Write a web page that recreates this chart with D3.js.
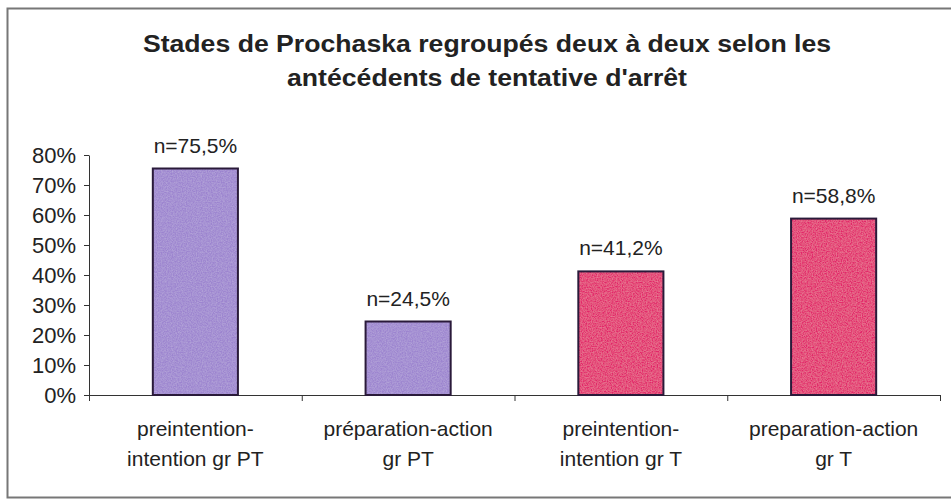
<!DOCTYPE html>
<html><head><meta charset="utf-8">
<script src="https://cdn.jsdelivr.net/npm/d3@7"></script>
<style>body{margin:0;background:#fff}svg{display:block}</style>
</head><body>
<script>
const categories = [["preintention-","intention gr PT"],["préparation-action","gr PT"],["preintention-","intention gr T"],["preparation-action","gr T"]];
const values = [75.5, 24.5, 41.2, 58.8];
const labels = ["n=75,5%","n=24,5%","n=41,2%","n=58,8%"];
const colors = ["#9c84cf","#9c84cf","#e2266a","#e2266a"];
const yTicks = [0,10,20,30,40,50,60,70,80];
const titleLines = ["Stades de Prochaska regroupés deux à deux selon les","antécédents de tentative d'arrêt"];

const W=951,H=499;
const svg=d3.select("body").append("svg").attr("width",W).attr("height",H);
const defs=svg.append("defs");
const f=defs.append("filter").attr("id","grain").attr("x",0).attr("y",0).attr("width","100%").attr("height","100%");
f.append("feTurbulence").attr("type","fractalNoise").attr("baseFrequency",0.8).attr("numOctaves",2).attr("seed",3).attr("result","n");
f.append("feColorMatrix").attr("in","n").attr("type","matrix").attr("values","0 0 0 0 1  0 0 0 0 1  0 0 0 0 1  0 0 0 0.3 -0.08").attr("result","w");
f.append("feComposite").attr("in","w").attr("in2","SourceGraphic").attr("operator","atop");

// frame
svg.append("rect").attr("x",7.5).attr("y",8.5).attr("width",W+10).attr("height",489).attr("fill","none").attr("stroke","#777").attr("stroke-width",2);

const x0=89,x1=940,yTop=155,yBot=395;
const x=d3.scaleBand().domain(d3.range(values.length)).range([x0,x1]).paddingInner(0.6).paddingOuter(0.3);
const y=d3.scaleLinear().domain([0,80]).range([yBot,yTop]);

svg.selectAll("text.title").data(titleLines).join("text")
 .attr("transform",(d,i)=>`translate(487,${52+i*34}) scale(1.11,1)`).attr("text-anchor","middle")
 .attr("font-family","Liberation Sans, Arial, sans-serif").attr("font-weight","bold").attr("font-size",24).attr("fill","#222").text(d=>d);

const ya=svg.append("g").attr("transform",`translate(${x0},0)`)
 .call(d3.axisLeft(y).tickValues(yTicks).tickFormat(d=>d+"%").tickSize(5).tickSizeOuter(0));
ya.select(".domain").attr("stroke","#333");
ya.selectAll(".tick line").attr("stroke","#333");
ya.selectAll("text").attr("font-family","Liberation Sans, Arial, sans-serif").attr("font-size",22).attr("fill","#222").attr("x",-13);

// x axis
const xs=d3.scaleLinear().domain([0,values.length]).range([x0,x1]);
const xa=svg.append("g").attr("transform",`translate(0,${yBot})`)
 .call(d3.axisBottom(xs).tickValues(d3.range(values.length+1)).tickFormat("").tickSize(6).tickSizeOuter(0));
xa.select(".domain").attr("stroke","#333");
xa.selectAll(".tick line").attr("stroke","#333");

svg.selectAll("rect.bar").data(values).join("rect")
 .attr("x",(d,i)=>x(i)).attr("width",x.bandwidth()).attr("y",d=>y(d)).attr("height",d=>yBot-y(d))
 .attr("fill",(d,i)=>colors[i]).attr("filter","url(#grain)");
svg.selectAll("rect.edge").data(values).join("rect")
 .attr("x",(d,i)=>x(i)).attr("width",x.bandwidth()).attr("y",d=>y(d)).attr("height",d=>yBot-y(d))
 .attr("fill","none").attr("stroke","#2a1a3a").attr("stroke-width",2);

svg.selectAll("text.val").data(values).join("text")
 .attr("x",(d,i)=>x(i)+x.bandwidth()/2).attr("y",d=>y(d)-16).attr("text-anchor","middle")
 .attr("font-family","Liberation Sans, Arial, sans-serif").attr("font-size",21).attr("fill","#222").text((d,i)=>labels[i]);

const cg=svg.selectAll("g.cat").data(categories).join("g")
 .attr("transform",(d,i)=>`translate(${x(i)+x.bandwidth()/2},0)`);
cg.selectAll("text").data(d=>d).join("text")
 .attr("x",0).attr("y",(d,i)=>436+i*30).attr("text-anchor","middle")
 .attr("font-family","Liberation Sans, Arial, sans-serif").attr("font-size",21).attr("fill","#222").text(d=>d);
</script>
</body></html>
